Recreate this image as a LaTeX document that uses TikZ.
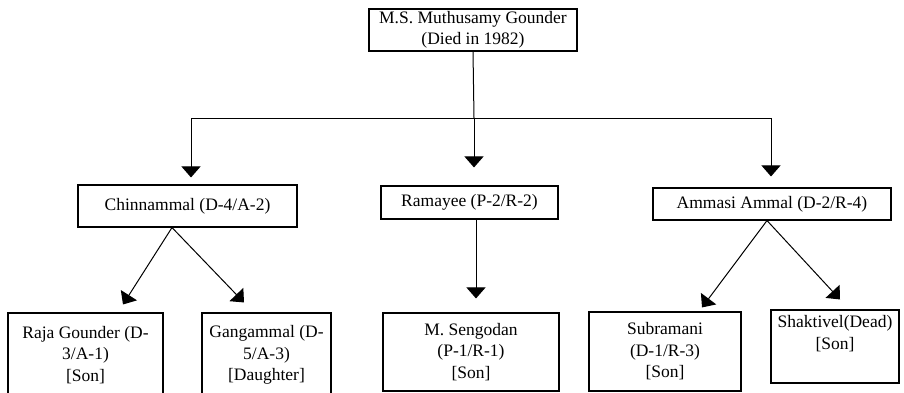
\documentclass[tikz,border=0pt]{standalone}
\usepackage{fontspec}
\setmainfont{Liberation Serif}
\usetikzlibrary{arrows.meta}
\tikzset{
  person/.style={draw, line width=1.1pt, align=center, inner sep=0pt,
    font=\fontsize{17.5}{21.5}\selectfont},
  link/.style={line width=1pt},
  arrowline/.style={link, -{Triangle[width=19pt,length=11pt]}}
}
\begin{document}
\begin{tikzpicture}[x=1pt, y=-1pt]
  \useasboundingbox (0,0) rectangle (904,392);

  \node [person, minimum width=208pt, minimum height=42pt] (head) at (473,30)
    {M.S. Muthusamy Gounder\\(Died in 1982)};

  \node [person, minimum width=219pt, minimum height=42pt] (chin) at (187.5,206) {Chinnammal (D-4/A-2)};
  \node [person, minimum width=177pt, minimum height=33pt] (rama) at (469.5,202.5) {Ramayee (P-2/R-2)};
  \node [person, minimum width=238pt, minimum height=32pt] (amma) at (772,204) {Ammasi Ammal (D-2/R-4)};

  \node [person, minimum width=155pt, minimum height=84pt] (raja) at (85.5,355)
    {Raja Gounder (D-\\3/A-1)\\{[Son]}};
  \node [person, minimum width=129pt, minimum height=84pt] (gang) at (266.5,355)
    {Gangammal (D-\\5/A-3)\\{[Daughter]}};
  \node [person, minimum width=176pt, minimum height=78pt] (seng) at (471,352)
    {M. Sengodan\\(P-1/R-1)\\{[Son]}};
  \node [person, minimum width=152pt, minimum height=79pt] (subr) at (665,351.5)
    {Subramani\\(D-1/R-3)\\{[Son]}};
  \node [person, minimum width=128pt, minimum height=73pt] (shak) at (835,346.5)
    {Shaktivel(Dead)\\{[Son]}\\\strut};

  \coordinate (fork) at (474,118);
  \coordinate (forkL) at (191,118);
  \coordinate (forkR) at (771,118);

  \draw [link] (head.south) -- (fork);
  \draw [link] (forkL) -- (forkR);
  \draw [arrowline, shorten >=7pt] (forkL) -- (forkL |- chin.north);
  \draw [arrowline, shorten >=18pt] (fork) -- (fork |- rama.north);
  \draw [arrowline, shorten >=11pt] (forkR) -- (forkR |- amma.north);

  \draw [arrowline] ([xshift=-15.5pt]chin.south) -- ([xshift=37.5pt,yshift=8pt]raja.north);
  \draw [arrowline] ([xshift=-15.5pt]chin.south) -- ([xshift=-22.5pt,yshift=10pt]gang.north);
  \draw [arrowline] ([xshift=6.5pt]rama.south) -- ([xshift=5pt,yshift=14pt]seng.north);
  \draw [arrowline] ([xshift=-5pt]amma.south) -- ([xshift=37pt,yshift=4pt]subr.north);
  \draw [arrowline] ([xshift=-5pt]amma.south) -- ([xshift=5pt,yshift=10pt]shak.north);
\end{tikzpicture}
\end{document}
